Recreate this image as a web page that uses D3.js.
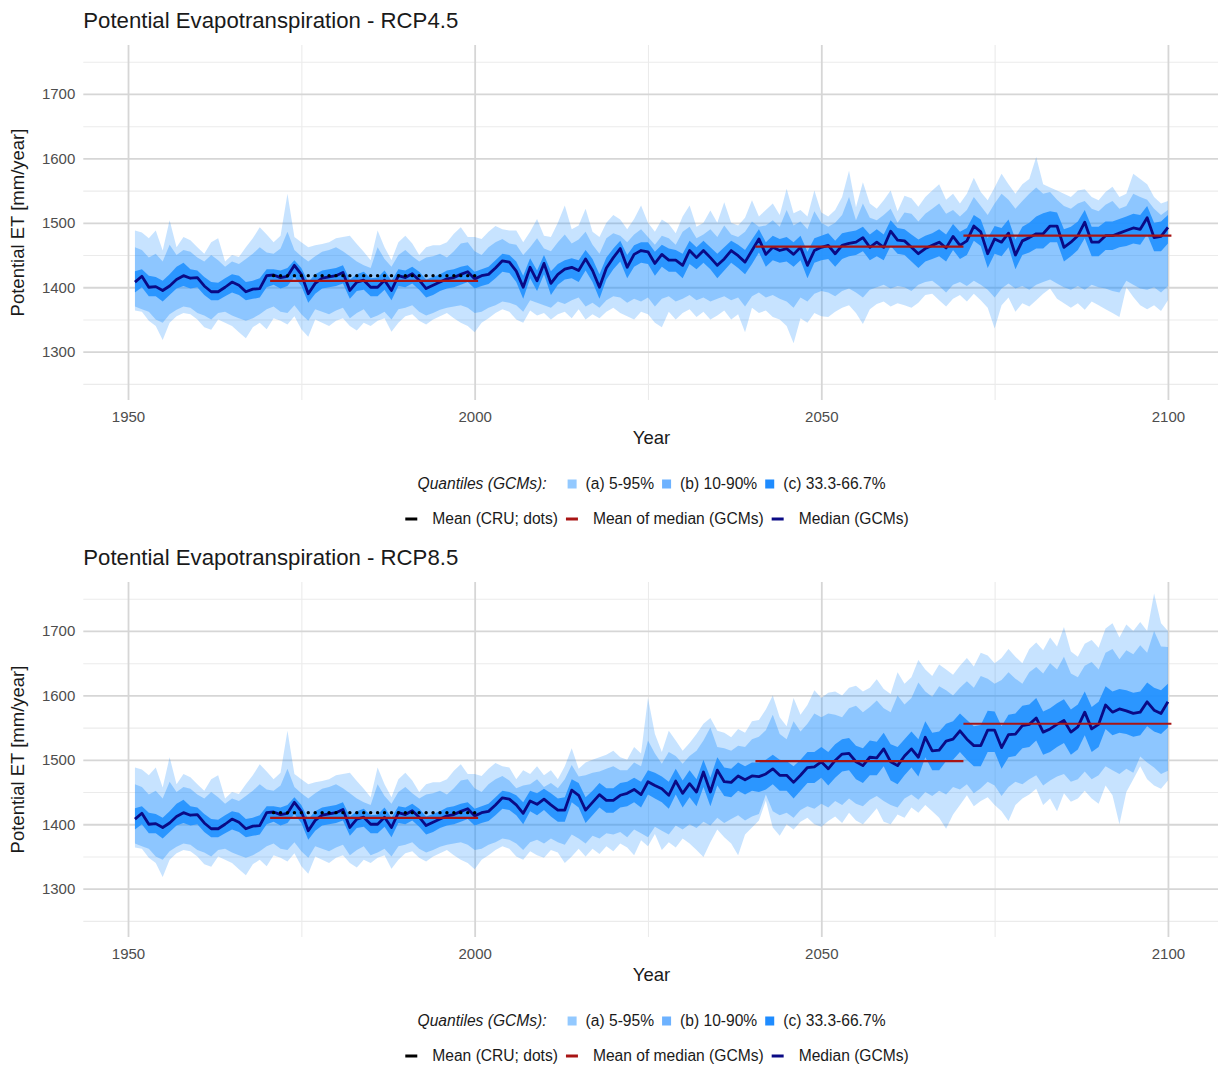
<!DOCTYPE html>
<html><head><meta charset="utf-8">
<script src="https://cdn.jsdelivr.net/npm/d3@7"></script>
<style>
body{margin:0;background:#fff;}
svg text{font-family:"Liberation Sans",Arial,Helvetica,sans-serif;}
</style>
</head><body>
<svg id="c" width="1218" height="1068"></svg>
<script>
// ---------------- DATA ----------------
const firstYear = 1951, lastYear = 2100;
// historical GCM quantiles 1951-2005 (shared by both scenarios)
const hist_q05 = [1364,1362,1348,1340,1318,1345,1355,1360,1358,1350,
1338,1334,1350,1345,1340,1330,1321,1338,1345,1335,
1352,1348,1342,1355,1335,1323,1350,1345,1340,1348,
1352,1340,1333,1345,1340,1348,1352,1331,1345,1355,
1358,1348,1342,1350,1355,1360,1352,1345,1340,1330,
1345,1352,1360,1366,1362];
const hist_q10 = [1370,1366,1362,1350,1345,1358,1365,1370,1368,1360,
1356,1350,1360,1362,1356,1352,1348,1352,1358,1366,
1370,1362,1360,1372,1358,1348,1366,1362,1358,1364,
1368,1352,1360,1366,1352,1356,1362,1350,1366,1368,
1372,1362,1356,1360,1365,1368,1370,1372,1368,1360,
1362,1368,1372,1378,1376];
const hist_q33 = [1392,1400,1386,1386,1378,1388,1398,1402,1398,1400,
1388,1380,1380,1386,1392,1388,1380,1382,1384,1400,
1404,1398,1402,1416,1402,1376,1390,1398,1400,1402,
1406,1382,1394,1396,1386,1386,1396,1380,1402,1400,
1406,1396,1384,1388,1394,1398,1400,1404,1408,1398,
1402,1405,1414,1424,1422];
const hist_q50 = [1408,1417,1400,1401,1395,1402,1412,1418,1414,1415,
1402,1393,1393,1400,1408,1403,1393,1397,1398,1418,
1419,1415,1417,1434,1420,1390,1406,1414,1416,1418,
1423,1395,1408,1411,1400,1400,1411,1395,1418,1415,
1421,1411,1398,1403,1408,1413,1415,1420,1424,1413,
1418,1420,1430,1441,1439];
const hist_q67 = [1425,1428,1418,1416,1410,1420,1432,1438,1428,1426,
1416,1408,1407,1414,1420,1418,1408,1410,1414,1428,
1428,1426,1430,1442,1430,1408,1420,1426,1428,1430,
1434,1412,1420,1424,1414,1415,1426,1410,1428,1426,
1432,1424,1412,1416,1420,1426,1428,1432,1434,1424,
1428,1432,1442,1452,1450];
const hist_q90 = [1462,1458,1446,1452,1440,1466,1450,1458,1455,1446,
1440,1450,1442,1432,1440,1436,1444,1452,1462,1454,
1452,1460,1486,1458,1448,1440,1448,1455,1458,1462,
1456,1448,1440,1434,1430,1462,1444,1432,1450,1458,
1448,1440,1446,1448,1452,1446,1456,1468,1470,1456,
1450,1462,1470,1475,1468];
const hist_q95 = [1488,1485,1476,1488,1457,1504,1462,1478,1473,1462,
1452,1470,1476,1440,1450,1447,1462,1476,1493,1482,
1470,1480,1545,1478,1470,1462,1465,1467,1470,1476,
1478,1480,1467,1455,1442,1488,1462,1442,1470,1480,
1468,1450,1462,1465,1465,1470,1483,1493,1478,1478,
1475,1486,1495,1490,1488];

// RCP4.5 2006-2100
const rcp45_q05 = [1350,1345,1364,1356,1360,1350,1358,1362,1352,1366,
1350,1358,1352,1362,1368,1360,1355,1350,1362,1358,
1345,1338,1362,1350,1360,1366,1354,1362,1350,1356,
1364,1350,1358,1330,1368,1360,1364,1354,1350,1340,
1313,1352,1345,1360,1355,1354,1362,1368,1372,1360,
1343,1366,1374,1378,1370,1375,1372,1368,1376,1388,
1390,1380,1370,1382,1388,1378,1390,1380,1368,1336,
1372,1384,1362,1375,1370,1380,1390,1398,1382,1375,
1368,1375,1365,1378,1372,1366,1360,1354,1400,1385,
1372,1366,1372,1363,1380];
const rcp45_q10 = [1372,1362,1380,1376,1372,1368,1378,1374,1380,1384,
1370,1376,1368,1380,1386,1384,1376,1382,1378,1384,
1370,1382,1386,1378,1382,1388,1380,1384,1378,1382,
1386,1380,1384,1370,1386,1392,1384,1388,1382,1378,
1368,1384,1378,1390,1394,1392,1386,1394,1398,1392,
1384,1396,1400,1404,1398,1402,1400,1394,1404,1408,
1410,1402,1392,1404,1408,1402,1410,1404,1396,1384,
1398,1406,1398,1402,1396,1404,1408,1412,1406,1400,
1396,1402,1396,1404,1400,1398,1394,1392,1410,1404,
1398,1396,1400,1392,1402];
const rcp45_q33 = [1408,1382,1414,1394,1420,1388,1404,1412,1414,1408,
1426,1408,1382,1412,1428,1440,1414,1432,1438,1436,
1418,1432,1424,1424,1414,1436,1428,1438,1428,1414,
1426,1438,1430,1420,1436,1454,1432,1442,1438,1440,
1432,1442,1414,1438,1442,1444,1432,1444,1448,1450,
1456,1442,1448,1442,1464,1452,1450,1440,1430,1440,
1444,1448,1440,1458,1444,1450,1472,1464,1430,1452,
1448,1462,1428,1450,1454,1460,1460,1470,1470,1440,
1448,1458,1476,1448,1448,1458,1458,1462,1464,1468,
1466,1482,1456,1456,1468];
const rcp45_q50 = [1425,1400,1431,1410,1437,1406,1420,1428,1431,1426,
1444,1426,1400,1430,1446,1460,1431,1451,1457,1455,
1437,1451,1442,1442,1434,1457,1446,1457,1446,1434,
1444,1457,1449,1439,1457,1475,1451,1462,1457,1460,
1451,1462,1434,1457,1462,1465,1452,1465,1468,1470,
1477,1462,1470,1462,1487,1473,1472,1462,1452,1460,
1465,1470,1461,1479,1465,1472,1495,1486,1452,1475,
1470,1484,1450,1472,1477,1483,1483,1495,1495,1462,
1470,1480,1501,1470,1470,1480,1480,1484,1488,1492,
1490,1508,1477,1479,1493];
const rcp45_q67 = [1440,1418,1445,1426,1450,1425,1436,1442,1445,1442,
1458,1444,1420,1446,1460,1472,1450,1465,1470,1470,
1455,1466,1460,1458,1452,1472,1462,1472,1462,1452,
1462,1472,1466,1458,1474,1490,1470,1480,1475,1478,
1470,1480,1455,1476,1480,1484,1472,1484,1486,1488,
1494,1482,1490,1482,1504,1492,1490,1482,1474,1480,
1484,1490,1482,1498,1486,1492,1512,1505,1476,1495,
1492,1505,1474,1494,1500,1510,1515,1518,1516,1490,
1494,1502,1520,1494,1494,1502,1502,1506,1510,1514,
1512,1526,1500,1502,1512];
const rcp45_q90 = [1466,1450,1462,1476,1460,1456,1470,1482,1468,1474,
1486,1466,1452,1476,1484,1480,1470,1482,1490,1478,
1466,1480,1476,1466,1486,1494,1476,1482,1490,1478,
1496,1482,1478,1486,1502,1494,1496,1504,1494,1520,
1496,1502,1490,1518,1500,1494,1500,1512,1540,1504,
1530,1508,1504,1512,1522,1500,1516,1514,1502,1514,
1522,1530,1514,1520,1510,1520,1540,1526,1512,1530,
1545,1536,1522,1534,1545,1555,1545,1548,1536,1526,
1522,1530,1534,1522,1518,1528,1534,1522,1526,1545,
1540,1536,1522,1512,1520];
const rcp45_q95 = [1488,1470,1486,1506,1480,1478,1500,1527,1490,1496,
1522,1486,1478,1500,1512,1505,1490,1506,1527,1500,
1486,1505,1498,1484,1510,1527,1494,1500,1519,1500,
1532,1500,1496,1508,1535,1510,1520,1530,1512,1553,
1515,1520,1510,1550,1516,1510,1520,1540,1581,1524,
1563,1530,1522,1535,1550,1518,1542,1538,1525,1540,
1550,1560,1536,1545,1530,1545,1570,1548,1535,1555,
1576,1560,1545,1560,1568,1602,1560,1555,1550,1545,
1540,1550,1552,1540,1535,1548,1556,1540,1545,1576,
1568,1560,1540,1530,1534];

// RCP8.5 2006-2100
const rcp85_q05 = [1350,1345,1358,1352,1348,1360,1356,1340,1350,1362,
1350,1362,1354,1366,1358,1370,1364,1352,1375,1366,
1385,1360,1372,1364,1378,1370,1360,1349,1372,1392,
1380,1370,1352,1384,1395,1406,1437,1395,1382,1400,
1392,1404,1410,1400,1396,1405,1412,1402,1418,1406,
1400,1412,1425,1404,1400,1415,1410,1426,1418,1430,
1420,1410,1393,1415,1430,1445,1428,1436,1442,1430,
1420,1405,1430,1440,1446,1455,1430,1440,1420,1448,
1435,1440,1452,1440,1432,1460,1445,1400,1450,1470,
1490,1470,1460,1455,1468];
const rcp85_q10 = [1370,1360,1372,1376,1370,1378,1372,1368,1384,1378,
1370,1382,1378,1386,1384,1388,1380,1392,1386,1380,
1396,1390,1384,1398,1392,1400,1394,1404,1398,1410,
1402,1408,1414,1406,1412,1416,1446,1420,1414,1418,
1410,1422,1428,1424,1432,1426,1436,1430,1440,1432,
1428,1438,1444,1436,1430,1426,1440,1446,1438,1450,
1444,1452,1446,1458,1454,1462,1448,1456,1466,1460,
1444,1458,1466,1462,1470,1476,1460,1468,1474,1478,
1466,1470,1482,1470,1476,1490,1484,1478,1486,1480,
1505,1496,1488,1478,1483];
const rcp85_q33 = [1414,1400,1420,1414,1422,1412,1404,1404,1434,1426,
1402,1414,1426,1418,1418,1426,1428,1434,1426,1446,
1440,1434,1424,1446,1426,1442,1428,1458,1428,1460,
1444,1442,1452,1446,1452,1450,1454,1462,1452,1452,
1440,1452,1464,1464,1472,1460,1472,1482,1484,1470,
1464,1476,1476,1490,1468,1462,1476,1488,1474,1504,
1484,1484,1498,1500,1512,1500,1490,1490,1512,1512,
1486,1504,1506,1518,1520,1530,1508,1512,1520,1526,
1508,1516,1538,1512,1520,1548,1538,1542,1540,1536,
1538,1552,1544,1540,1550];
const rcp85_q50 = [1430,1417,1436,1431,1439,1430,1422,1422,1453,1445,
1422,1434,1446,1437,1437,1445,1448,1454,1446,1466,
1460,1455,1445,1467,1448,1463,1450,1481,1450,1484,
1466,1465,1475,1469,1475,1474,1478,1486,1476,1476,
1465,1476,1488,1489,1497,1486,1499,1509,1510,1497,
1491,1504,1503,1517,1497,1491,1506,1517,1504,1535,
1514,1515,1529,1532,1545,1532,1522,1522,1546,1546,
1519,1539,1540,1553,1555,1565,1543,1548,1555,1561,
1543,1551,1574,1548,1555,1585,1574,1579,1576,1572,
1574,1590,1577,1572,1590];
const rcp85_q67 = [1445,1434,1452,1448,1455,1448,1440,1442,1470,1464,
1442,1452,1464,1456,1456,1464,1466,1472,1466,1484,
1480,1474,1466,1486,1468,1484,1470,1500,1472,1504,
1488,1486,1496,1490,1496,1496,1500,1508,1500,1498,
1490,1500,1512,1512,1520,1512,1524,1532,1534,1522,
1518,1530,1528,1542,1524,1520,1532,1544,1532,1560,
1542,1544,1556,1560,1572,1562,1552,1554,1576,1575,
1552,1570,1572,1584,1586,1596,1575,1580,1588,1594,
1578,1586,1606,1582,1590,1614,1606,1610,1608,1604,
1606,1620,1612,1608,1618];
const rcp85_q90 = [1456,1460,1462,1470,1458,1464,1456,1470,1492,1474,
1476,1480,1482,1486,1490,1484,1484,1496,1490,1530,
1510,1494,1512,1506,1494,1506,1514,1530,1550,1520,
1518,1514,1522,1520,1532,1536,1546,1570,1540,1532,
1560,1544,1556,1572,1566,1572,1570,1566,1580,1584,
1574,1582,1592,1580,1574,1600,1586,1596,1620,1606,
1598,1614,1608,1600,1612,1622,1612,1630,1626,1618,
1624,1636,1626,1618,1636,1644,1634,1650,1640,1660,
1634,1628,1646,1652,1640,1666,1672,1656,1670,1664,
1678,1666,1700,1676,1675];
const rcp85_q95 = [1470,1484,1478,1490,1476,1484,1470,1490,1518,1486,
1496,1500,1504,1508,1514,1504,1500,1520,1510,1596,
1540,1512,1545,1530,1514,1526,1540,1556,1565,1545,
1542,1535,1548,1542,1560,1562,1578,1600,1566,1552,
1596,1570,1585,1608,1596,1604,1606,1600,1612,1615,
1606,1612,1625,1610,1602,1636,1618,1628,1655,1640,
1630,1648,1640,1632,1646,1658,1645,1666,1662,1650,
1658,1672,1660,1650,1672,1682,1670,1690,1676,1706,
1668,1660,1680,1686,1674,1704,1712,1690,1710,1700,
1714,1700,1758,1712,1700];

// 30-year means
const periodStart = [1971, 2041, 2071];
const periodEnd = [2000, 2070, 2100];
const rcp45_periodMean = [1410, 1463, 1480];
const rcp85_periodMean = [1410, 1498, 1556];
const cruStart = 1971, cruEnd = 2000, cruMean = 1418;

const scenarioTitles = ["Potential Evapotranspiration - RCP4.5", "Potential Evapotranspiration - RCP8.5"];
const yTicks = [1300, 1400, 1500, 1600, 1700];
const yMinorTicks = [1250, 1350, 1450, 1550, 1650, 1750];
const xTicks = [1950, 2000, 2050, 2100];
const xMinorTicks = [1975, 2025, 2075];
const quantileTitle = "Quantiles (GCMs):";
const quantileLabels = ["(a) 5-95%", "(b) 10-90%", "(c) 33.3-66.7%"];
const lineLabels = ["Mean (CRU; dots)", "Mean of median (GCMs)", "Median (GCMs)"];

// ---------------- DRAW ----------------
const years = d3.range(firstYear, lastYear + 1);
const scen = [
  {title: scenarioTitles[0], means: rcp45_periodMean,
   q05: hist_q05.concat(rcp45_q05), q10: hist_q10.concat(rcp45_q10), q33: hist_q33.concat(rcp45_q33),
   q50: hist_q50.concat(rcp45_q50), q67: hist_q67.concat(rcp45_q67), q90: hist_q90.concat(rcp45_q90), q95: hist_q95.concat(rcp45_q95)},
  {title: scenarioTitles[1], means: rcp85_periodMean,
   q05: hist_q05.concat(rcp85_q05), q10: hist_q10.concat(rcp85_q10), q33: hist_q33.concat(rcp85_q33),
   q50: hist_q50.concat(rcp85_q50), q67: hist_q67.concat(rcp85_q67), q90: hist_q90.concat(rcp85_q90), q95: hist_q95.concat(rcp85_q95)}
];

const svg = d3.select("#c");
const X0 = 83.3, X1 = 1219.6, PH = 355, PANEL_SHIFT = 537;
const x = d3.scaleLinear().domain([1943.55, 2107.45]).range([X0, X1]);
const bandFill = ["rgba(30,144,255,0.25)", "rgba(30,144,255,0.34)", "rgba(30,144,255,0.88)"];
const keyFill = ["#93c9ff", "#6db2ff", "#1f8cff"];
const medianColor = "#0a0a85", meanColor = "#a81414";
const textDark = "#1a1a1a", tickColor = "#4d4d4d";

scen.forEach((s, i) => {
  const top = 45 + i * PANEL_SHIFT;
  const y = d3.scaleLinear().domain([1225, 1776]).range([top + PH, top]);
  const g = svg.append("g");

  // minor grid
  const gyMin = g.append("g").attr("transform", `translate(${X0},0)`)
    .call(d3.axisLeft(y).tickValues(yMinorTicks).tickSize(-(X1 - X0)).tickFormat(""));
  const gxMin = g.append("g").attr("transform", `translate(0,${top + PH})`)
    .call(d3.axisBottom(x).tickValues(xMinorTicks).tickSize(-PH).tickFormat(""));
  [gyMin, gxMin].forEach(a => { a.select(".domain").remove(); a.selectAll(".tick line").attr("stroke", "#ebebeb").attr("stroke-width", 1.1); });

  // major grid + labels
  const gy = g.append("g").attr("transform", `translate(${X0},0)`)
    .call(d3.axisLeft(y).tickValues(yTicks).tickSize(-(X1 - X0)).tickPadding(8).tickFormat(d3.format("d")));
  const gx = g.append("g").attr("transform", `translate(0,${top + PH})`)
    .call(d3.axisBottom(x).tickValues(xTicks).tickSize(-PH).tickPadding(11).tickFormat(d3.format("d")));
  [gy, gx].forEach(a => {
    a.select(".domain").remove();
    a.selectAll(".tick line").attr("stroke", "#d6d6d6").attr("stroke-width", 1.8);
    a.selectAll(".tick text").attr("fill", tickColor).attr("font-size", 15)
      .attr("font-family", "'Liberation Sans',Arial,sans-serif");
  });

  // bands
  const rows = years.map((yr, k) => ({year: yr, q05: s.q05[k], q10: s.q10[k], q33: s.q33[k], q50: s.q50[k],
    q67: s.q67[k], q90: s.q90[k], q95: s.q95[k]}));
  const pairs = [["q05", "q95"], ["q10", "q90"], ["q33", "q67"]];
  pairs.forEach((p, j) => {
    const area = d3.area().x(d => x(d.year)).y0(d => y(d[p[0]])).y1(d => y(d[p[1]]));
    g.append("path").datum(rows).attr("d", area).attr("fill", bandFill[j]);
  });

  // median line
  g.append("path").datum(rows)
    .attr("d", d3.line().x(d => x(d.year)).y(d => y(d.q50)))
    .attr("fill", "none").attr("stroke", medianColor).attr("stroke-width", 2.8).attr("stroke-linejoin", "round");

  // mean of median segments
  periodStart.forEach((ps, k) => {
    g.append("line")
      .attr("x1", x(ps - 0.5)).attr("x2", x(periodEnd[k] + 0.5))
      .attr("y1", y(s.means[k])).attr("y2", y(s.means[k]))
      .attr("stroke", meanColor).attr("stroke-width", 2.2);
  });

  // CRU mean as dots
  g.selectAll("circle.cru").data(d3.range(cruStart, cruEnd + 1)).enter().append("circle")
    .attr("cx", d => x(d)).attr("cy", y(cruMean)).attr("r", 1.7).attr("fill", "#000");

  // titles
  g.append("text").attr("x", X0).attr("y", top - 17).attr("font-size", 22.2).attr("fill", textDark).text(s.title);
  g.append("text").attr("x", (X0 + X1) / 2).attr("y", top + PH + 44).attr("text-anchor", "middle")
    .attr("font-size", 18.5).attr("fill", textDark).text("Year");
  g.append("text").attr("transform", `translate(24,${top + PH / 2}) rotate(-90)`).attr("text-anchor", "middle")
    .attr("font-size", 18.5).attr("fill", textDark).text("Potential ET [mm/year]");

  // legend row 1
  const fs = 15.6;
  const row1y = top + 439, row2y = top + 474;
  const l1 = g.append("g");
  let cx = 0;
  const qt = l1.append("text").attr("x", cx).attr("y", row1y + fs * 0.35).attr("font-size", fs)
    .attr("font-style", "italic").attr("fill", textDark).text(quantileTitle);
  cx += qt.node().getComputedTextLength() + 21;
  quantileLabels.forEach((lab, k) => {
    l1.append("rect").attr("x", cx).attr("y", row1y - 4.5).attr("width", 9).attr("height", 9).attr("fill", keyFill[k]);
    cx += 9 + 9;
    const t = l1.append("text").attr("x", cx).attr("y", row1y + fs * 0.35).attr("font-size", fs).attr("fill", textDark).text(lab);
    cx += t.node().getComputedTextLength() + 8;
  });
  l1.attr("transform", `translate(${651.5 - (cx - 8) / 2},0)`);

  // legend row 2
  const l2 = g.append("g");
  const lineCols = ["#000", meanColor, medianColor];
  cx = 0;
  lineLabels.forEach((lab, k) => {
    l2.append("line").attr("x1", cx).attr("x2", cx + 12).attr("y1", row2y).attr("y2", row2y)
      .attr("stroke", lineCols[k]).attr("stroke-width", 3);
    cx += 12 + 15;
    const t = l2.append("text").attr("x", cx).attr("y", row2y + fs * 0.35).attr("font-size", fs).attr("fill", textDark).text(lab);
    cx += t.node().getComputedTextLength() + 8;
  });
  l2.attr("transform", `translate(${657 - (cx - 8) / 2},0)`);
});
</script>
</body></html>
